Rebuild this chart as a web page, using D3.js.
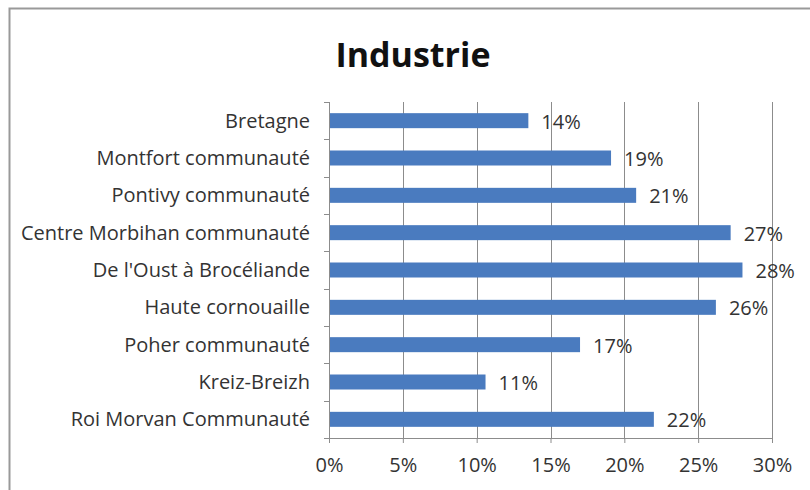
<!DOCTYPE html>
<html>
<head>
<meta charset="utf-8">
<script src="https://cdn.jsdelivr.net/npm/d3@7"></script>
<style>
  body { margin: 0; background: #fff; }
  text { font-family: "Open Sans", "Noto Sans", sans-serif; }
</style>
</head>
<body>
<div id="container"></div>
<script>
// data
const categories = ["Bretagne", "Montfort communauté", "Pontivy communauté",
  "Centre Morbihan communauté", "De l'Oust à Brocéliande", "Haute cornouaille",
  "Poher communauté", "Kreiz-Breizh", "Roi Morvan Communauté"];
const values = [0.135, 0.191, 0.208, 0.272, 0.280, 0.262, 0.170, 0.106, 0.220];
const valueLabels = ["14%", "19%", "21%", "27%", "28%", "26%", "17%", "11%", "22%"];
const xTicks = [0, 0.05, 0.10, 0.15, 0.20, 0.25, 0.30];

const width = 810, height = 490;
const margin = { top: 102, left: 329, right: 38, bottom: 52 };
const fontSize = "20px";

const svg = d3.select("#container").append("svg")
  .attr("width", width)
  .attr("height", height);

// chart frame
svg.append("path")
  .attr("d", `M9.5,${height + 5}V8.5H${width + 5}`)
  .attr("fill", "none")
  .attr("stroke", "#999")
  .attr("stroke-width", 2);

svg.append("text")
  .attr("x", 413)
  .attr("y", 67)
  .attr("text-anchor", "middle")
  .style("font-size", "34px")
  .style("font-weight", "bold")
  .attr("fill", "#111")
  .text("Industrie");

const x = d3.scaleLinear()
  .domain([0, 0.30])
  .range([margin.left, width - margin.right]);

const y = d3.scaleBand()
  .domain(categories)
  .range([margin.top, height - margin.bottom]);

// gridlines
svg.selectAll(".grid")
  .data(xTicks.slice(1))
  .join("line")
  .attr("class", "grid")
  .attr("x1", d => Math.round(x(d)) + 0.5)
  .attr("x2", d => Math.round(x(d)) + 0.5)
  .attr("y1", margin.top)
  .attr("y2", height - margin.bottom)
  .attr("stroke", "#8c8c8c");

// x axis
const xAxis = svg.append("g")
  .attr("transform", `translate(0,${height - margin.bottom})`)
  .call(d3.axisBottom(x).tickValues(xTicks).tickFormat(d3.format(".0%")).tickSize(5).tickPadding(15));
xAxis.select(".domain").attr("stroke", "#8c8c8c");
xAxis.selectAll(".tick line").attr("stroke", "#8c8c8c");
xAxis.selectAll("text").style("font-size", fontSize).attr("fill", "#333");

// y axis with ticks at category boundaries
const yAxis = svg.append("g")
  .attr("transform", `translate(${margin.left},0)`);
yAxis.append("line")
  .attr("x1", 0.5).attr("x2", 0.5)
  .attr("y1", margin.top).attr("y2", height - margin.bottom)
  .attr("stroke", "#8c8c8c");
yAxis.selectAll(".btick")
  .data(d3.range(categories.length + 1))
  .join("line")
  .attr("class", "btick")
  .attr("x1", -5).attr("x2", 0)
  .attr("y1", i => Math.round(margin.top + i * y.step()) + 0.5)
  .attr("y2", i => Math.round(margin.top + i * y.step()) + 0.5)
  .attr("stroke", "#8c8c8c");
yAxis.selectAll(".clabel")
  .data(categories)
  .join("text")
  .attr("class", "clabel")
  .attr("x", -19)
  .attr("y", d => y(d) + y.bandwidth() / 2)
  .attr("dy", "0.35em")
  .attr("text-anchor", "end")
  .style("font-size", fontSize)
  .attr("fill", "#333")
  .text(d => d);

// bars
const barH = 15;
svg.selectAll(".bar")
  .data(values)
  .join("rect")
  .attr("class", "bar")
  .attr("x", x(0) + 1)
  .attr("y", (d, i) => y(categories[i]) + y.bandwidth() / 2 - barH / 2)
  .attr("width", d => x(d) - x(0) - 1)
  .attr("height", barH)
  .attr("fill", "#4a7bbf");

// value labels
svg.selectAll(".vlabel")
  .data(values)
  .join("text")
  .attr("class", "vlabel")
  .attr("x", d => x(d) + 13)
  .attr("y", (d, i) => y(categories[i]) + y.bandwidth() / 2 + 1)
  .attr("dy", "0.35em")
  .style("font-size", fontSize)
  .attr("fill", "#333")
  .text((d, i) => valueLabels[i]);
</script>
</body>
</html>
